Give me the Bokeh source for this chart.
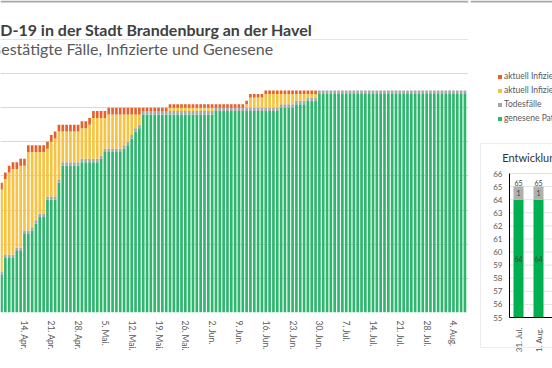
import datetime as dt
from bokeh.plotting import figure
from bokeh.models import (ColumnDataSource, Range1d, FixedTicker, Grid, Label, Span,
                          Legend, LegendItem, BoxAnnotation)
from bokeh.layouts import row
from bokeh.embed import file_html
from bokeh.resources import INLINE
from bokeh.core.properties import value

# ---------------- data ----------------
START = dt.date(2020, 4, 8)   # first day in the visible window

genesene = [
    11, 16, 16, 16, 18, 18, 23,
    23, 24, 26, 28, 28, 33, 33,
    33, 38, 43, 43, 43, 43, 43,
    44, 44, 44, 44, 44, 45, 47,
    47, 47, 47, 47, 48, 49, 51,
    53, 54, 58, 58, 58, 58, 58,
    58, 58, 58, 58, 58, 58, 58,
    58, 58, 58, 58, 58, 58, 58,
    59, 59, 59, 59, 59, 59, 59,
    59, 59, 59, 59, 59, 59, 59,
    59, 59, 59, 60, 60, 60, 60,
    61, 61, 61, 62, 62, 62, 64,
    64, 64, 64, 64, 64, 64, 64,
    64, 64, 64, 64, 64, 64, 64,
    64, 64, 64, 64, 64, 64, 64,
    64, 64, 64, 64, 64, 64, 64,
    64, 64, 64, 64, 64, 64, 64,
    64, 64, 64,
]
todesfaelle = [
    1, 1, 1, 1, 1, 1, 1,
    1, 1, 1, 1, 1, 1, 1,
    1, 1, 1, 1, 1, 1, 1,
    1, 1, 1, 1, 1, 1, 1,
    1, 1, 1, 1, 1, 1, 1,
    1, 1, 1, 1, 1, 1, 1,
    1, 1, 1, 1, 1, 1, 1,
    1, 1, 1, 1, 1, 1, 1,
    1, 1, 1, 1, 1, 1, 1,
    1, 1, 1, 1, 1, 1, 1,
    1, 1, 1, 1, 1, 1, 1,
    1, 1, 1, 1, 1, 1, 1,
    1, 1, 1, 1, 1, 1, 1,
    1, 1, 1, 1, 1, 1, 1,
    1, 1, 1, 1, 1, 1, 1,
    1, 1, 1, 1, 1, 1, 1,
    1, 1, 1, 1, 1, 1, 1,
    1, 1, 1,
]
infizierte_haeuslich = [
    24, 22, 24, 25, 23, 24, 19,
    23, 22, 20, 18, 18, 14, 16,
    17, 14, 9, 9, 9, 9, 9,
    9, 9, 10, 12, 12, 11, 9,
    10, 10, 10, 10, 9, 8, 6,
    4, 3, 0, 0, 0, 0, 0,
    0, 0, 1, 1, 1, 1, 1,
    1, 1, 1, 1, 1, 1, 1,
    0, 0, 0, 0, 0, 0, 0,
    0, 1, 3, 3, 3, 3, 4,
    4, 4, 4, 3, 3, 3, 3,
    2, 2, 2, 1, 1, 1, 0,
    0, 0, 0, 0, 0, 0, 0,
    0, 0, 0, 0, 0, 0, 0,
    0, 0, 0, 0, 0, 0, 0,
    0, 0, 0, 0, 0, 0, 0,
    0, 0, 0, 0, 0, 0, 0,
    0, 0, 0,
]
infizierte_stationaer = [
    2, 2, 2, 2, 2, 2, 2,
    2, 2, 2, 2, 2, 2, 2,
    2, 2, 2, 2, 2, 2, 2,
    2, 2, 2, 2, 2, 2, 2,
    2, 2, 2, 2, 2, 2, 2,
    2, 2, 1, 1, 1, 1, 1,
    1, 1, 1, 1, 1, 1, 1,
    1, 1, 1, 1, 1, 1, 1,
    1, 1, 1, 1, 1, 1, 1,
    1, 1, 1, 1, 1, 1, 1,
    1, 1, 1, 1, 1, 1, 1,
    1, 1, 1, 1, 1, 1, 0,
    0, 0, 0, 0, 0, 0, 0,
    0, 0, 0, 0, 0, 0, 0,
    0, 0, 0, 0, 0, 0, 0,
    0, 0, 0, 0, 0, 0, 0,
    0, 0, 0, 0, 0, 0, 0,
    0, 0, 0,
]

tick_dates = ["2020-04-14", "2020-04-21", "2020-04-28", "2020-05-05", "2020-05-12",
              "2020-05-19", "2020-05-26", "2020-06-02", "2020-06-09", "2020-06-16",
              "2020-06-23", "2020-06-30", "2020-07-07", "2020-07-14", "2020-07-21",
              "2020-07-28", "2020-08-04"]
tick_labels = ["14. Apr.", "21. Apr.", "28. Apr.", "5. Mai.", "12. Mai.", "19. Mai.",
               "26. Mai.", "2. Jun.", "9. Jun.", "16. Jun.", "23. Jun.", "30. Jun.",
               "7. Jul.", "14. Jul.", "21. Jul.", "28. Jul.", "4. Aug."]
grid_values = [10, 20, 30, 40, 50, 60, 70]

legend_labels = ["aktuell Infizierte (stationär)", "aktuell Infizierte (häuslich)",
                 "Todesfälle", "genesene Patienten"]

# inset: development of the last days
inset_labels = ["31. Jul.", "1. Aug.", "2. Aug.", "3. Aug.", "4. Aug.", "5. Aug.", "6. Aug."]
inset_genesene = [64, 64, 64, 64, 64, 64, 64]
inset_todesfaelle = [1, 1, 1, 1, 1, 1, 1]
inset_ticks = [55, 56, 57, 58, 59, 60, 61, 62, 63, 64, 65, 66]

TITLE = "COVID-19 in der Stadt Brandenburg an der Havel"
SUBTITLE = "Bestätigte Fälle, Infizierte und Genesene"
INSET_TITLE = "Entwicklung der letzten Tage"

# ---------------- styles ----------------
C_GREEN = "#2eb66e"
C_GRAY = "#a5a5a5"
C_YELLOW = "#f6c343"
C_RED = "#e4612e"
FONT = "Lato"
TXT = "#595959"
FRAME_LINE = "#a6a6a6"

# ---------------- main chart ----------------
days = list(range(len(genesene)))
src = ColumnDataSource(dict(d=days, gen=genesene, tot=todesfaelle,
                            hae=infizierte_haeuslich, sta=infizierte_stationaer))

p = figure(width=470, height=368, x_range=Range1d(-0.261, 121.93), y_range=Range1d(0, 91.39),
           output_backend="svg", toolbar_location=None, y_axis_location=None,
           min_border_left=0, min_border_right=2, min_border_top=0, min_border_bottom=56)
p.frame_align = False
p.outline_line_color = None
p.background_fill_color = "white"
p.border_fill_color = "white"
p.xgrid.visible = False
p.add_layout(Grid(dimension=1, ticker=FixedTicker(ticks=grid_values),
                  grid_line_color="#d9d9d9", grid_line_width=1))

p.vbar_stack(["gen", "tot", "hae", "sta"], x="d", width=0.7, source=src,
             fill_color=[C_GREEN, C_GRAY, C_YELLOW, C_RED], line_color=None)

tick_pos = [(dt.date.fromisoformat(s) - START).days for s in tick_dates]
ax = p.xaxis[0]
ax.ticker = FixedTicker(ticks=tick_pos)
ax.major_label_overrides = {t: lab for t, lab in zip(tick_pos, tick_labels)}
ax.major_label_orientation = "vertical"
ax.axis_line_color = None
ax.major_tick_line_color = None
ax.minor_tick_line_color = None
ax.major_tick_out = 0
ax.major_tick_in = 0
ax.major_label_standoff = 8
ax.major_label_text_font = FONT
ax.major_label_text_font_size = "8.5px"
ax.major_label_text_color = TXT

p.add_layout(Span(location=91.09, dimension="width", line_color=FRAME_LINE, line_width=2))
p.add_layout(Label(x=-10.44, y=83.0, text=TITLE, text_font=FONT, text_font_size="16px",
                   text_font_style="bold", text_color="#404040", text_baseline="alphabetic"))
p.add_layout(Label(x=-2.74, y=77.2, text=SUBTITLE, text_font=FONT, text_font_size="16px",
                   text_color=TXT, text_baseline="alphabetic"))

# ---------------- right column: legend + inset ----------------
base = inset_ticks[0]
isrc = ColumnDataSource(dict(
    x=list(range(len(inset_labels))),
    base=[base] * len(inset_labels),
    g=inset_genesene,
    top=[g + t for g, t in zip(inset_genesene, inset_todesfaelle)],
    gmid=[(base + g) / 2 for g in inset_genesene],
    tmid=[g + t / 2 for g, t in zip(inset_genesene, inset_todesfaelle)],
    xlab=inset_labels,
    glab=[str(g) for g in inset_genesene],
    tlab=[str(t) for t in inset_todesfaelle],
    toplab=[str(g + t) for g, t in zip(inset_genesene, inset_todesfaelle)],
))

q = figure(width=82, height=368, x_range=Range1d(-2.4, 1.7), y_range=Range1d(51.104, 79.217),
           output_backend="svg", toolbar_location=None,
           x_axis_location=None, y_axis_location=None,
           min_border_left=0, min_border_right=0, min_border_top=0, min_border_bottom=0)
q.frame_align = False
q.outline_line_color = None
q.xgrid.visible = False
q.ygrid.visible = False

AX0 = -0.45      # left edge of the inset plot area (inset x units)
AX1 = 2.0        # beyond the visible right edge
ysrc = ColumnDataSource(dict(y=inset_ticks, lab=[str(v) for v in inset_ticks],
                             x0=[AX0] * len(inset_ticks), x1=[AX1] * len(inset_ticks)))

# frame of the inset
q.add_layout(BoxAnnotation(left=-1.9, right=AX1 + 1, top=68.29, bottom=52.71, fill_alpha=0,
                           line_color="#bfbfbf", line_width=1))
q.add_layout(Span(location=79.14, dimension="width", line_color=FRAME_LINE, line_width=2))

# gridlines, bars and axes of the inset
q.segment(x0="x0", x1="x1", y0="y", y1="y", source=ysrc, line_color="#e3e3e3", line_width=1)
q.vbar(x="x", bottom="base", top="g", width=0.5, source=isrc,
       fill_color="#00b050", line_color=None)
q.vbar(x="x", bottom="g", top="top", width=0.5, source=isrc,
       fill_color="#b0b0b0", line_color=None)
q.segment(x0=[AX0, AX0], x1=[AX0, AX1], y0=[base, base],
          y1=[inset_ticks[-1], base], line_color="black", line_width=1)
q.text(x="x0", y="y", text="lab", source=ysrc, x_offset=-7, text_align="right",
       text_baseline="middle", text_font=value(FONT), text_font_size="8px", text_color=TXT)
q.text(x="x", y="base", text="xlab", source=isrc, y_offset=10, angle=1.5708,
       text_align="right", text_baseline="middle", text_font=value(FONT),
       text_font_size="8px", text_color=TXT)

lab_kw = dict(text_font=value(FONT), text_font_size="7px", text_color="#404040",
              text_align="center", source=isrc)
q.text(x="x", y="gmid", text="glab", text_baseline="middle", **lab_kw)
q.text(x="x", y="tmid", text="tlab", text_baseline="middle", **lab_kw)
q.text(x="x", y="top", text="toplab", text_baseline="bottom", y_offset=-1, **lab_kw)

q.add_layout(Label(x=-0.815, y=67.22, text=INSET_TITLE, text_font=FONT, text_font_size="11px",
                   text_color="#333333", text_baseline="middle"))

# legend: each swatch renderer holds one bar placed outside the visible range,
# so that the legend can read its colour
swatches = [C_RED, C_YELLOW, C_GRAY, C_GREEN]
items = []
for lab, col in zip(legend_labels, swatches):
    r = q.vbar(x=[-100], top=[0], bottom=[0], width=0.5, fill_color=col, line_color=None)
    items.append(LegendItem(label=lab, renderers=[r]))
leg = Legend(items=items, location=(27, 245), glyph_width=5, glyph_height=5,
             label_height=10, label_width=10, spacing=4, padding=0, margin=0,
             label_standoff=2, label_text_font=FONT, label_text_font_size="8.5px",
             label_text_color=TXT, border_line_color=None, background_fill_alpha=0)
q.add_layout(leg)

layout = row(p, q)
open("out.html", "w").write(file_html(layout, INLINE))
